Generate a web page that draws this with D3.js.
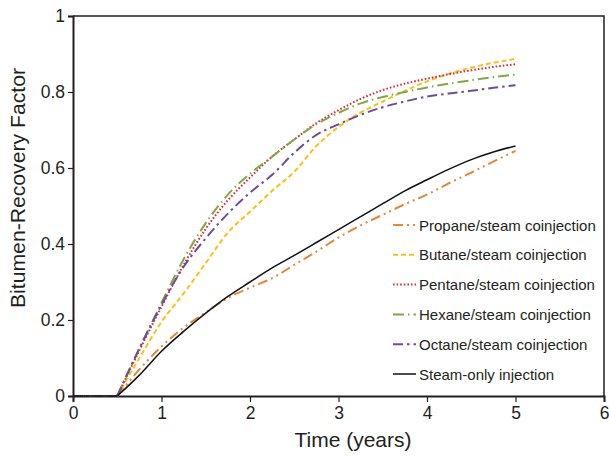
<!DOCTYPE html>
<html>
<head>
<meta charset="utf-8">
<script src="https://cdn.jsdelivr.net/npm/d3@7"></script>
<style>
  body { margin: 0; background: #fff; }
  text { font-family: "Liberation Sans", Arial, sans-serif; fill: #231f20; }
</style>
</head>
<body>
<svg id="chart" width="609" height="458"></svg>
<script>
"use strict";

// time in years
const years = [0, 0.5, 0.75, 1, 1.25, 1.5, 1.75, 2, 2.25, 2.5, 2.75, 3, 3.25, 3.5, 3.75, 4, 4.25, 4.5, 4.75, 5];

const propane = [0, 0, 0.07, 0.13, 0.18, 0.22, 0.258, 0.285, 0.31, 0.345, 0.38, 0.417, 0.449, 0.477, 0.505, 0.53, 0.56, 0.588, 0.617, 0.645];
const butane  = [0, 0, 0.10, 0.195, 0.27, 0.35, 0.43, 0.485, 0.54, 0.59, 0.658, 0.708, 0.746, 0.775, 0.803, 0.828, 0.848, 0.864, 0.877, 0.887];
const pentane = [0, 0, 0.12, 0.235, 0.345, 0.44, 0.515, 0.575, 0.63, 0.675, 0.718, 0.752, 0.782, 0.805, 0.822, 0.835, 0.847, 0.857, 0.866, 0.873];
const hexane  = [0, 0, 0.125, 0.245, 0.36, 0.455, 0.53, 0.585, 0.63, 0.675, 0.715, 0.745, 0.77, 0.787, 0.80, 0.812, 0.822, 0.831, 0.839, 0.846];
const octane  = [0, 0, 0.125, 0.24, 0.34, 0.415, 0.48, 0.535, 0.582, 0.64, 0.687, 0.715, 0.74, 0.76, 0.775, 0.788, 0.796, 0.803, 0.811, 0.818];
const steam   = [0, 0, 0.055, 0.118, 0.17, 0.218, 0.262, 0.30, 0.337, 0.37, 0.404, 0.438, 0.472, 0.506, 0.54, 0.569, 0.597, 0.622, 0.642, 0.658];

const seriesNames = [
  "Propane/steam coinjection",
  "Butane/steam coinjection",
  "Pentane/steam coinjection",
  "Hexane/steam coinjection",
  "Octane/steam coinjection",
  "Steam-only injection"
];
const seriesValues = [propane, butane, pentane, hexane, octane, steam];

const xTicks = [0, 1, 2, 3, 4, 5, 6];
const yTicks = [0, 0.2, 0.4, 0.6, 0.8, 1];


    // line looks, same order as the series
const looks = [
  { color: "#e3873a", dash: "10,4,2,4,2,4", width: 2 },
  { color: "#fdc010", dash: "5,3",          width: 2 },
  { color: "#d42a3c", dash: "1.6,2",        width: 2 },
  { color: "#7fa843", dash: "11,4,1.5,4",   width: 2 },
  { color: "#6a4d98", dash: "10,4,2.5,4",   width: 2 },
  { color: "#111111", dash: null,           width: 1.5 }
];

const svg = d3.select("#chart");

const plotLeft = 73, plotRight = 604, plotTop = 16, plotBottom = 396;

const x = d3.scaleLinear().domain([0, 6]).range([plotLeft, plotRight]);
const y = d3.scaleLinear().domain([0, 1]).range([plotBottom, plotTop]);


    // frame: top and right borders

svg.append("path")
    .attr("d", `M${plotLeft},${plotTop}H${plotRight}V${plotBottom}`)
    .attr("fill", "none")
    .attr("stroke", "#231f20")
    .attr("stroke-width", 1.5);


    // axes

const xAxis = svg.append("g")
    .attr("transform", `translate(0,${plotBottom})`)
    .call(d3.axisBottom(x).tickValues(xTicks).tickFormat(d3.format("d")).tickSize(6).tickPadding(5));

const yAxis = svg.append("g")
    .attr("transform", `translate(${plotLeft},0)`)
    .call(d3.axisLeft(y).tickValues(yTicks).tickFormat(d => d === 0 || d === 1 ? String(d) : d.toFixed(1)).tickSize(5).tickPadding(3));

[xAxis, yAxis].forEach(ax => {
  ax.select(".domain").attr("stroke", "#231f20").attr("stroke-width", 2);
  ax.selectAll(".tick line").attr("stroke", "#231f20").attr("stroke-width", 1.2);
  ax.selectAll(".tick text")
      .attr("font-family", "Liberation Sans, Arial, sans-serif")
      .attr("font-size", 17.5)
      .attr("fill", "#231f20");
});


    // axis titles

svg.append("text")
    .attr("x", 353)
    .attr("y", 447)
    .attr("text-anchor", "middle")
    .attr("font-size", 21)
    .text("Time (years)");

svg.append("text")
    .attr("transform", "translate(25,188) rotate(-90)")
    .attr("text-anchor", "middle")
    .attr("font-size", 20)
    .attr("textLength", 240)
    .attr("lengthAdjust", "spacingAndGlyphs")
    .text("Bitumen-Recovery Factor");


    // curves: flat start before injection, then smooth rise

const line = d3.line()
    .x(d => x(d[0]))
    .y(d => y(d[1]))
    .curve(d3.curveMonotoneX);

seriesValues.forEach((vals, i) => {
  const pts = years.map((t, k) => [t, vals[k]]);
  [pts.slice(0, 2), pts.slice(1)].forEach(part => {
    svg.append("path")
        .datum(part)
        .attr("d", line)
        .attr("fill", "none")
        .attr("stroke", looks[i].color)
        .attr("stroke-width", looks[i].width)
        .attr("stroke-dasharray", looks[i].dash);
  });
});


    // legend

const legend = svg.append("g").attr("transform", "translate(393,225)");

seriesNames.forEach((name, i) => {
  const row = legend.append("g").attr("transform", `translate(0,${i * 29.8})`);

  row.append("line")
      .attr("x1", 0).attr("x2", 23)
      .attr("y1", 0).attr("y2", 0)
      .attr("stroke", looks[i].color)
      .attr("stroke-width", looks[i].width)
      .attr("stroke-dasharray", looks[i].dash);

  row.append("text")
      .attr("x", 26)
      .attr("y", 5.5)
      .attr("font-size", 15)
      .text(name);
});

</script>
</body>
</html>
